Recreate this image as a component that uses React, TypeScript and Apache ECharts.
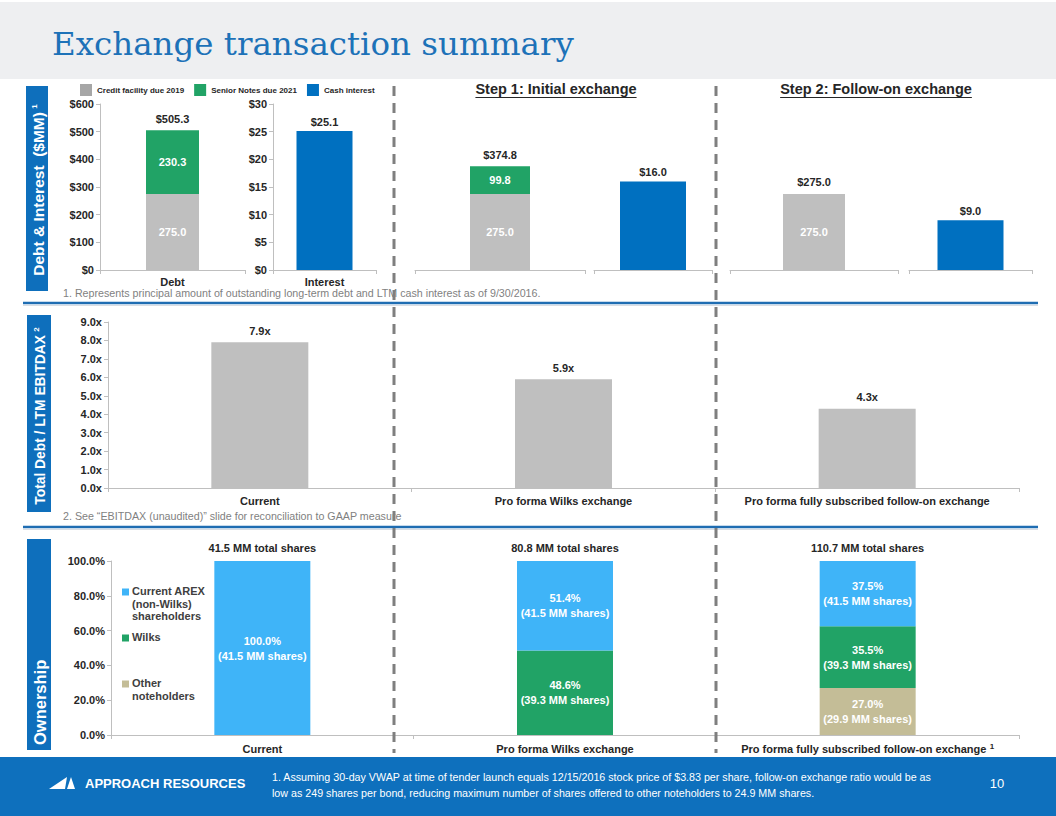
import React, { useEffect, useRef } from "react";
import * as echarts from "echarts";

// ---------- DATA ----------
const legendNames = ["Credit facility due 2019", "Senior Notes due 2021", "Cash interest"];
const debtCategory = ["Debt"];
const interestCategory = ["Interest"];
// order: current, step 1 (initial exchange), step 2 (follow-on exchange)
const creditFacility = [275.0, 275.0, 275.0];
const seniorNotes: (number | null)[] = [230.3, 99.8, null];
const debtTotals = [505.3, 374.8, 275.0];
const cashInterest = [25.1, 16.0, 9.0];
const debtTicks = { min: 0, max: 600, interval: 100 };
const interestTicks = { min: 0, max: 30, interval: 5 };

const scenarioCategories = ["Current", "Pro forma Wilks exchange", "Pro forma fully subscribed follow-on exchange"];
const leverage = [7.9, 5.9, 4.3];
const leverageTicks = { min: 0, max: 9, interval: 1 };

const ownershipNames = ["Current AREX (non-Wilks) shareholders", "Wilks", "Other noteholders"];
const arexPct: (number | null)[] = [100.0, 51.4, 37.5];
const wilksPct: (number | null)[] = [null, 48.6, 35.5];
const otherPct: (number | null)[] = [null, null, 27.0];
const arexShares: (number | null)[] = [41.5, 41.5, 41.5];
const wilksShares: (number | null)[] = [null, 39.3, 39.3];
const otherShares: (number | null)[] = [null, null, 29.9];
const totalShares = [41.5, 80.8, 110.7];
const ownershipTicks = { min: 0, max: 100, interval: 20 };

// ---------- STYLE ----------
const FONT = "'Liberation Sans', Arial, sans-serif";
const DARK = "#262626";
const GRAY_BAR = "#bfbfbf";
const GREEN = "#21a366";
const BLUE = "#0070c0";
const LIGHT_BLUE = "#3fb4f8";
const TAN = "#c4bd97";
const AXIS_GRAY = "#bfbfbf";
const BAND_BLUE = "#0e6fbc";

function measure(text: string, font: string): number {
  const c = document.createElement("canvas").getContext("2d");
  if (!c) return text.length * 7;
  c.font = font;
  return c.measureText(text).width;
}

export default function App() {
  const ref = useRef<HTMLDivElement>(null);

  useEffect(() => {
    if (!ref.current) return;
    const chart = echarts.init(ref.current, undefined, { renderer: "svg" });

    const axisLabel = { color: DARK, fontWeight: "bold", fontSize: 11, fontFamily: FONT };
    const axisLine = { show: true, lineStyle: { color: AXIS_GRAY, width: 1 } };
    const axisTick = { show: true, length: 4, lineStyle: { color: AXIS_GRAY } };
    const whiteLbl = { color: "#ffffff", fontWeight: "bold", fontSize: 11, fontFamily: FONT };
    const topLbl = { color: DARK, fontWeight: "bold", fontSize: 11, fontFamily: FONT };

    const grids = [
      { left: 100, top: 104, width: 145, height: 166 },
      { left: 273, top: 104, width: 103, height: 166 },
      { left: 415, top: 104, width: 170, height: 166 },
      { left: 594, top: 104, width: 118, height: 166 },
      { left: 730, top: 104, width: 168, height: 166 },
      { left: 909, top: 104, width: 123, height: 166 },
      { left: 108, top: 322, width: 911, height: 166 },
      { left: 111, top: 561, width: 908, height: 174 },
    ];
    const debtBarW = [53, 60, 62];
    const intBarW = [56, 66, 66];

    const xAxis: any[] = [];
    const yAxis: any[] = [];
    const series: any[] = [];

    for (let k = 0; k < 3; k++) {
      const gD = k * 2;
      const gI = k * 2 + 1;
      xAxis.push({
        type: "category", gridIndex: gD, data: k === 0 ? debtCategory : [""],
        axisLine, axisTick, axisLabel: { ...axisLabel, margin: 6, show: k === 0 },
      });
      xAxis.push({
        type: "category", gridIndex: gI, data: k === 0 ? interestCategory : [""],
        axisLine, axisTick, axisLabel: { ...axisLabel, margin: 6, show: k === 0 },
      });
      yAxis.push({
        type: "value", gridIndex: gD, ...debtTicks, show: k === 0,
        axisLine, axisTick, splitLine: { show: false },
        axisLabel: { ...axisLabel, margin: 6, formatter: (v: number) => "$" + v },
      });
      yAxis.push({
        type: "value", gridIndex: gI, ...interestTicks, show: k === 0,
        axisLine, axisTick, splitLine: { show: false },
        axisLabel: { ...axisLabel, margin: 6, formatter: (v: number) => "$" + v },
      });
      series.push({
        type: "bar", name: legendNames[0], xAxisIndex: gD, yAxisIndex: gD, stack: "debt" + k,
        data: [creditFacility[k]], barWidth: debtBarW[k], itemStyle: { color: GRAY_BAR },
        label: { show: true, position: "inside", ...whiteLbl, formatter: (p: any) => p.value.toFixed(1) },
      });
      series.push({
        type: "bar", name: legendNames[1], xAxisIndex: gD, yAxisIndex: gD, stack: "debt" + k,
        data: [seniorNotes[k]], barWidth: debtBarW[k], itemStyle: { color: GREEN },
        label: { show: true, position: "inside", ...whiteLbl, formatter: (p: any) => (p.value == null ? "" : p.value.toFixed(1)) },
      });
      series.push({
        type: "bar", name: "Total debt", xAxisIndex: gD, yAxisIndex: gD,
        data: [debtTotals[k]], barWidth: debtBarW[k], barGap: "-100%", z: 1,
        itemStyle: { color: "rgba(0,0,0,0)" }, silent: true,
        label: { show: true, position: "top", distance: 6, ...topLbl, formatter: (p: any) => "$" + p.value.toFixed(1) },
      });
      series.push({
        type: "bar", name: legendNames[2], xAxisIndex: gI, yAxisIndex: gI,
        data: [cashInterest[k]], barWidth: intBarW[k], itemStyle: { color: BLUE },
        label: { show: true, position: "top", distance: 4, ...topLbl, formatter: (p: any) => "$" + p.value.toFixed(1) },
      });
    }

    // leverage chart (grid 6)
    xAxis.push({
      type: "category", gridIndex: 6, data: scenarioCategories,
      axisLine, axisTick, axisLabel: { ...axisLabel, margin: 7, interval: 0 },
    });
    yAxis.push({
      type: "value", gridIndex: 6, ...leverageTicks,
      axisLine, axisTick, splitLine: { show: false },
      axisLabel: { ...axisLabel, margin: 6, formatter: (v: number) => v.toFixed(1) + "x" },
    });
    series.push({
      type: "bar", name: "Total Debt / LTM EBITDAX", xAxisIndex: 6, yAxisIndex: 6,
      data: leverage, barWidth: 97, itemStyle: { color: GRAY_BAR },
      label: { show: true, position: "top", distance: 6, ...topLbl, formatter: (p: any) => p.value.toFixed(1) + "x" },
    });

    // ownership chart (grid 7)
    xAxis.push({
      type: "category", gridIndex: 7, data: scenarioCategories,
      axisLine, axisTick,
      axisLabel: {
        margin: 7, interval: 0,
        formatter: (v: string) => (v === scenarioCategories[2] ? `{b|${v}} {s|1}` : `{b|${v}}`),
        rich: {
          b: { color: DARK, fontWeight: "bold", fontSize: 11, fontFamily: FONT, lineHeight: 13 },
          s: { color: DARK, fontWeight: "bold", fontSize: 8, fontFamily: FONT, lineHeight: 13, verticalAlign: "top" },
        },
      },
    });
    yAxis.push({
      type: "value", gridIndex: 7, ...ownershipTicks,
      axisLine, axisTick, splitLine: { show: false },
      axisLabel: { ...axisLabel, margin: 6, formatter: (v: number) => v.toFixed(1) + "%" },
    });
    const ownLabel = (shares: (number | null)[]) => ({
      show: true, position: "inside", ...whiteLbl, lineHeight: 15,
      formatter: (p: any) => (p.value == null ? "" : `${p.value.toFixed(1)}%\n(${(shares[p.dataIndex] as number).toFixed(1)} MM shares)`),
    });
    series.push({
      type: "bar", name: ownershipNames[2], xAxisIndex: 7, yAxisIndex: 7, stack: "own",
      data: otherPct, barWidth: 96, itemStyle: { color: TAN }, label: ownLabel(otherShares),
    });
    series.push({
      type: "bar", name: ownershipNames[1], xAxisIndex: 7, yAxisIndex: 7, stack: "own",
      data: wilksPct, barWidth: 96, itemStyle: { color: GREEN }, label: ownLabel(wilksShares),
    });
    series.push({
      type: "bar", name: ownershipNames[0], xAxisIndex: 7, yAxisIndex: 7, stack: "own",
      data: arexPct, barWidth: 96, itemStyle: { color: LIGHT_BLUE }, label: ownLabel(arexShares),
    });
    const pctTotals = scenarioCategories.map((_, i) => (arexPct[i] || 0) + (wilksPct[i] || 0) + (otherPct[i] || 0));
    series.push({
      type: "bar", name: "Total shares", xAxisIndex: 7, yAxisIndex: 7,
      data: pctTotals, barWidth: 96, barGap: "-100%", z: 1, silent: true,
      itemStyle: { color: "rgba(0,0,0,0)" },
      label: {
        show: true, position: "top", distance: 8, ...topLbl,
        formatter: (p: any) => `${totalShares[p.dataIndex].toFixed(1)} MM total shares`,
      },
    });

    // ---------- graphics ----------
    const graphic: any[] = [];
    graphic.push({ type: "rect", shape: { x: 0, y: 2, width: 1056, height: 77 }, style: { fill: "#eeeff1" }, z: -10 });
    graphic.push({
      type: "text", x: 52, y: 44,
      style: { text: "Exchange transaction summary", fill: "#1d72b8", font: "32.5px 'DejaVu Serif', Georgia, serif", verticalAlign: "middle" },
    });

    // side bands
    const bands = [
      { x: 26, y: 86, w: 22, h: 205, main: "Debt & Interest  ($MM)", sup: "1", ty: 190, align: "center", size: 15.5 },
      { x: 27, y: 315, w: 24, h: 197, main: "Total Debt / LTM EBITDAX", sup: "2", ty: 416, align: "center", size: 13.8 },
      { x: 27, y: 539, w: 24, h: 211, main: "Ownership", sup: "", ty: 745, align: "left", size: 16.5 },
    ];
    bands.forEach((b) => {
      graphic.push({ type: "rect", shape: { x: b.x, y: b.y, width: b.w, height: b.h }, style: { fill: BAND_BLUE } });
      graphic.push({
        type: "text", x: b.x + b.w / 2 + 1, y: b.ty, rotation: Math.PI / 2,
        style: {
          text: b.sup ? `{m|${b.main}} {s|${b.sup}}` : `{m|${b.main}}`,
          align: b.align, verticalAlign: "middle",
          rich: {
            m: { fill: "#ffffff", fontWeight: "bold", fontSize: b.size, fontFamily: FONT },
            s: { fill: "#ffffff", fontWeight: "bold", fontSize: 8, fontFamily: FONT, verticalAlign: "top", padding: [0, 0, 8, 0] },
          },
        },
      });
    });

    // step headings
    const headFont = `bold 14.5px ${FONT}`;
    [
      { t: "Step 1: Initial exchange", cx: 556 },
      { t: "Step 2: Follow-on exchange", cx: 876 },
    ].forEach((h) => {
      const w = measure(h.t, headFont);
      graphic.push({
        type: "text", x: h.cx, y: 89,
        style: { text: h.t, fill: DARK, font: headFont, align: "center", verticalAlign: "middle" },
      });
      graphic.push({
        type: "line", shape: { x1: h.cx - w / 2, y1: 97.5, x2: h.cx + w / 2, y2: 97.5 },
        style: { stroke: DARK, lineWidth: 1.2 },
      });
    });

    // dashed separators
    [394, 716].forEach((x) => {
      graphic.push({
        type: "line", shape: { x1: x, y1: 86, x2: x, y2: 753 },
        style: { stroke: "#7f7f7f", lineWidth: 3, lineDash: [10, 7] }, z: 5,
      });
    });

    // blue section rules
    [303, 527].forEach((y) => {
      graphic.push({ type: "line", shape: { x1: 23, y1: y, x2: 1038, y2: y }, style: { stroke: "#1f6db2", lineWidth: 2.5 } });
      graphic.push({ type: "line", shape: { x1: 23, y1: y + 2.5, x2: 1038, y2: y + 2.5 }, style: { stroke: "#d9dde3", lineWidth: 1 } });
    });

    // footnotes
    graphic.push({
      type: "text", x: 63, y: 293,
      style: {
        text: "1. Represents principal amount of outstanding long-term debt and LTM cash interest as of 9/30/2016.",
        fill: "#7f7f7f", font: `10.7px ${FONT}`, verticalAlign: "middle",
      },
    });
    graphic.push({
      type: "text", x: 63, y: 516,
      style: {
        text: "2. See \u201CEBITDAX (unaudited)\u201D slide for reconciliation to GAAP measure",
        fill: "#7f7f7f", font: `10.7px ${FONT}`, verticalAlign: "middle",
      },
    });

    // ownership legend
    const ownLegend = [
      { color: LIGHT_BLUE, text: "Current AREX\n(non-Wilks)\nshareholders", y: 592 },
      { color: GREEN, text: "Wilks", y: 638 },
      { color: TAN, text: "Other\nnoteholders", y: 684 },
    ];
    ownLegend.forEach((l) => {
      graphic.push({ type: "rect", shape: { x: 122, y: l.y - 3.5, width: 7, height: 7 }, style: { fill: l.color } });
      graphic.push({
        type: "text", x: 132, y: l.y - 7,
        style: { text: l.text, fill: "#404040", font: `bold 11px ${FONT}`, lineHeight: 12.5, verticalAlign: "top" },
      });
    });

    // footer
    graphic.push({ type: "rect", shape: { x: 0, y: 757, width: 1056, height: 59 }, style: { fill: "#0e70bd" } });
    graphic.push({ type: "polygon", shape: { points: [[49, 789], [67, 777], [65, 789]] }, style: { fill: "#ffffff" } });
    graphic.push({ type: "polygon", shape: { points: [[67, 789], [71, 777], [75, 789]] }, style: { fill: "#ffffff" } });
    graphic.push({
      type: "text", x: 85, y: 783,
      style: { text: "APPROACH RESOURCES", fill: "#ffffff", font: `bold 13px ${FONT}`, verticalAlign: "middle" },
    });
    graphic.push({
      type: "text", x: 272, y: 785,
      style: {
        text:
          "1. Assuming 30-day VWAP at time of tender launch equals 12/15/2016 stock price of $3.83 per share, follow-on exchange ratio would be as\nlow as 249 shares per bond, reducing maximum number of shares offered to other noteholders to 24.9 MM shares.",
        fill: "#ffffff", font: `10.7px ${FONT}`, lineHeight: 16, verticalAlign: "middle",
      },
    });
    graphic.push({
      type: "text", x: 997, y: 783,
      style: { text: "10", fill: "#ffffff", font: `13px ${FONT}`, align: "center", verticalAlign: "middle" },
    });

    chart.setOption({
      animation: false,
      backgroundColor: "#ffffff",
      textStyle: { fontFamily: FONT },
      legend: {
        data: legendNames.map((n, i) => ({ name: n, itemStyle: { color: ["#a6a6a6", GREEN, BLUE][i] } })),
        left: 80, top: 84, padding: 0, itemWidth: 12, itemHeight: 12, itemGap: 10,
        icon: "rect", selectedMode: false,
        textStyle: { color: DARK, fontWeight: "bold", fontSize: 8, fontFamily: FONT, padding: [0, 0, 0, 0] },
      },
      grid: grids,
      xAxis,
      yAxis,
      series,
      graphic,
    });

    return () => chart.dispose();
  }, []);

  return <div ref={ref} style={{ position: "absolute", left: 0, top: 0, width: 1056, height: 816 }} />;
}
